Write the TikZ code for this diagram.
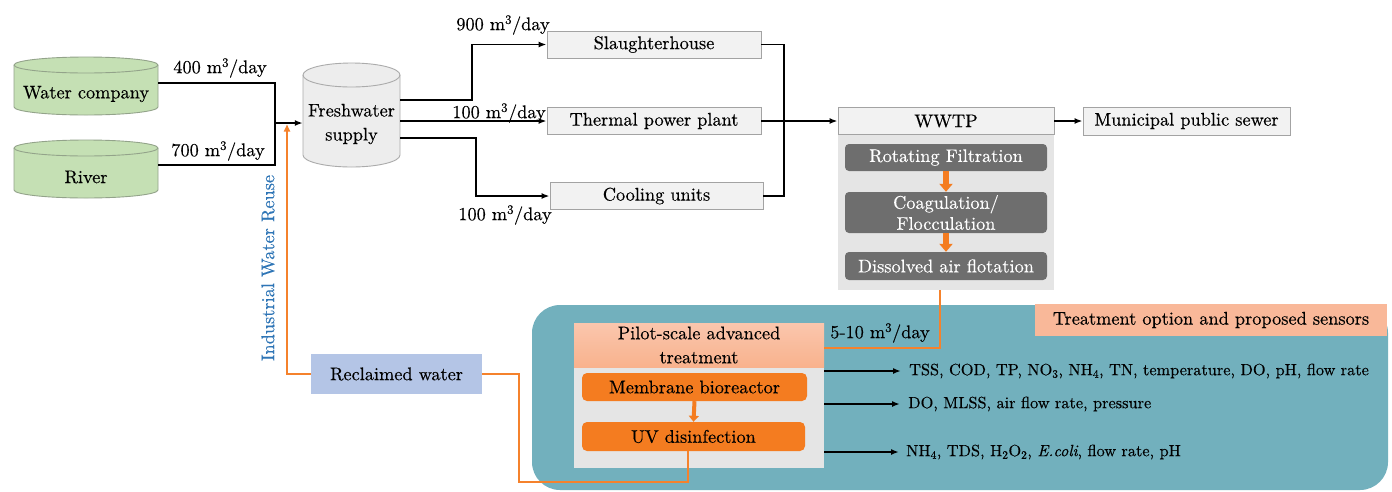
\documentclass[tikz,border=0pt]{standalone}
\usepackage{fontspec}
\setmainfont{lmroman10-regular.otf}[ItalicFont=lmroman10-italic.otf, BoldFont=lmroman10-bold.otf, BoldItalicFont=lmroman10-bolditalic.otf, UprightFeatures={FakeBold=0.35}, ItalicFeatures={FakeBold=0.35}]
\usetikzlibrary{arrows.meta,calc}
\definecolor{boxfill}{HTML}{F2F2F2}
\definecolor{boxdraw}{HTML}{A3A3A3}
\definecolor{cgreen}{HTML}{C5E0B4}
\definecolor{cgreendraw}{HTML}{93A38A}
\definecolor{fwfill}{HTML}{EDEDED}
\definecolor{fwdraw}{HTML}{ABABAB}
\definecolor{panelc}{HTML}{E5E5E5}
\definecolor{darkg}{HTML}{6E6E6E}
\definecolor{orng}{HTML}{F47C20}
\definecolor{olinec}{HTML}{F5822C}
\definecolor{tealc}{HTML}{72B0BD}
\definecolor{salmon}{HTML}{F9B899}
\definecolor{rwc}{HTML}{B4C5E6}
\definecolor{bluec}{HTML}{2E75B6}
\newcommand\mycyl[7]{%
  \path[#7] (#1,#3) -- (#1,#4) arc[start angle=180,end angle=360,x radius=#5pt,y radius=#6pt]
     -- (#2,#3) arc[start angle=0,end angle=180,x radius=#5pt,y radius=#6pt] -- cycle;
  \draw[#7,fill=none] (#1,#3) arc[start angle=180,end angle=360,x radius=#5pt,y radius=#6pt];
}
\begin{document}
\begin{tikzpicture}[x=1pt,y=-1pt,
  font=\fontsize{18.3}{23}\selectfont,
  graybox/.style={draw=boxdraw, fill=boxfill, line width=0.9pt, inner sep=0pt, minimum height=27pt},
  darkbox/.style={fill=darkg, rounded corners=4pt, text=white, inner sep=0pt, minimum width=202pt, align=center, font=\fontsize{18.3}{21}\selectfont},
  obox/.style={fill=orng, rounded corners=5pt, inner sep=0pt},
  blk/.style={line width=1.8pt},
  blkarr/.style={line width=1.8pt, -{Latex[length=8pt,width=6pt]}},
  oline/.style={draw=olinec, line width=1.6pt},
  blockarr/.style={draw=orng, line width=6pt, -{Triangle[length=8pt,width=13pt]}},
  sblockarr/.style={draw=orng, line width=4pt, -{Triangle[length=6pt,width=10pt]}},
  lbl/.style={inner sep=0pt},
  sens/.style={inner sep=0pt, anchor=west, font=\fontsize{16.3}{20}\selectfont}]
\useasboundingbox (0,0) rectangle (1392,491);
\fill[white] (0,0) rectangle (1392,491);

% cylinders
\mycyl{14}{158}{65}{107}{72}{8}{fill=cgreen,draw=cgreendraw,line width=0.9pt}
\mycyl{14}{158}{148}{190}{72}{8}{fill=cgreen,draw=cgreendraw,line width=0.9pt}
\mycyl{303}{400}{75}{155}{48.5}{12}{fill=fwfill,draw=fwdraw,line width=0.9pt}
\node[inner sep=0pt, minimum width=144pt, minimum height=42pt] (wc) at (86,94) {Water company};
\node[inner sep=0pt, minimum width=144pt, minimum height=42pt] (rv) at (86,177) {River};
\node[inner sep=0pt, minimum width=97pt, minimum height=80pt, align=center, font=\fontsize{18.3}{24}\selectfont] (fw) at (351.5,124) {Freshwater\\supply};

% top boxes
\node[graybox, minimum width=214pt] (sl) at (654,44.5) {Slaughterhouse};
\node[graybox, minimum width=214pt] (tp) at (654,121) {Thermal power plant};
\node[graybox, minimum width=213pt] (cu) at (656.5,196) {Cooling units};

% WWTP
\node[fill=panelc, inner sep=0pt, minimum width=216pt, minimum height=156pt] (panel) at (946,212) {};
\node[graybox, minimum width=216pt] (ww) at (946,121) {WWTP};
\node[graybox, minimum width=207pt, minimum height=28pt] (ms) at (1186.5,121) {Municipal public sewer};
\node[darkbox, minimum height=27pt] (rf) at (946,157.5) {Rotating Filtration};
\node[darkbox, minimum height=41pt] (cf) at (946,212.5) {Coagulation/\\Flocculation};
\node[darkbox, minimum height=28pt] (da) at (946,266) {Dissolved air flotation};
\draw[blockarr] (rf.south) -- (cf.north);
\draw[blockarr] (cf.south) -- (da.north);

% left connectors
\coordinate (m) at (275,123);
\draw[blk] ([yshift=11pt]wc.east) -| (m);
\draw[blk] ([yshift=12pt]rv.east) -| (m);
\draw[blkarr] (m) -- (m -| fw.west);
\node[lbl] (l400) at (220,68) {400 m\textsuperscript{3}/day};
\node[lbl] (l700) at (218,151) {700 m\textsuperscript{3}/day};

% freshwater to consumers
\coordinate (f1) at ([yshift=24pt]fw.east);
\coordinate (f3) at ([yshift=-14pt]fw.east);
\coordinate (j1) at (472,0);
\coordinate (j2) at (476,0);
\coordinate (j3) at (784,0);
\draw[blkarr] (f1) -| (j1 |- sl.west) -- (sl.west);
\draw[blkarr] (fw.east |- tp.west) -- (tp.west);
\draw[blkarr] (f3) -| (j2 |- cu.west) -- (cu.west);
\draw[blk] (sl.east) -| (j3 |- cu.east) -- (cu.east);
\draw[blkarr] (tp.east) -- (ww.west);
\draw[blkarr] (ww.east) -- (ms.west);
\node[lbl] (l900) at (503,25) {900 m\textsuperscript{3}/day};
\node[lbl] (l100a) at (499,113) {100 m\textsuperscript{3}/day};
\node[lbl] (l100b) at (505,215) {100 m\textsuperscript{3}/day};

% treatment region
\node[fill=tealc, rounded corners=28pt, inner sep=0pt, minimum width=856pt, minimum height=185pt] (teal) at (960,397.5) {};
\node[fill=salmon, inner sep=0pt, minimum width=352pt, minimum height=32pt] (tos) at (1211,320) {Treatment option and proposed sensors};
\node[fill=panelc, inner sep=0pt, minimum width=250pt, minimum height=101pt] (pb) at (699,417.5) {};
\node[top color=salmon!80!white, bottom color=salmon!90!orng, inner sep=0pt, minimum width=250pt, minimum height=44pt, align=center, font=\fontsize{18.3}{24}\selectfont] (ph) at (699,345) {Pilot-scale advanced\\treatment};
\node[obox, minimum width=225pt, minimum height=28pt] (mb) at (694.5,387) {Membrane bioreactor};
\node[obox, minimum width=223pt, minimum height=29pt] (uv) at (693.5,436.5) {UV disinfection};
\draw[sblockarr] (mb.south) -- (uv.north);

\coordinate (o1) at (940,348);
\draw[oline] (panel.south -| o1) -- (o1) -- (o1 -| ph.east);
\node[lbl] (l510) at (880,333) {5-10 m\textsuperscript{3}/day};

% sensors
\node[sens] (s1) at (909,371) {TSS, COD, TP, NO\textsubscript{3}, NH\textsubscript{4}, TN, temperature, DO, pH, flow rate};
\node[sens] (s2) at (908,404) {DO, MLSS, air flow rate, pressure};
\node[sens] (s3) at (906,452) {NH\textsubscript{4}, TDS, H\textsubscript{2}O\textsubscript{2}, \textit{E.coli}, flow rate, pH};
\draw[blkarr] (pb.east |- s1.west) -- ([xshift=-8pt]s1.west);
\draw[blkarr] (pb.east |- s2.west) -- ([xshift=-8pt]s2.west);
\draw[blkarr] (pb.east |- s3.west) -- ([xshift=-7pt]s3.west);

% reclaimed water loop
\node[fill=rwc, inner sep=0pt, minimum width=171pt, minimum height=40pt] (rw) at (396.5,374) {Reclaimed water};
\coordinate (o2) at (519,482);
\coordinate (o4) at (688,0);
\draw[oline] (o4 |- uv.south) -- (o4 |- o2) -- (o2) -- (o2 |- rw.east) -- (rw.east);
\coordinate (o3) at (287,124.5);
\draw[oline, -{Triangle[length=7pt,width=6pt]}] (rw.west) -| (o3);
\node[text=bluec, rotate=90, inner sep=0pt] (iwr) at (268,268) {Industrial Water Reuse};
\end{tikzpicture}
\end{document}
